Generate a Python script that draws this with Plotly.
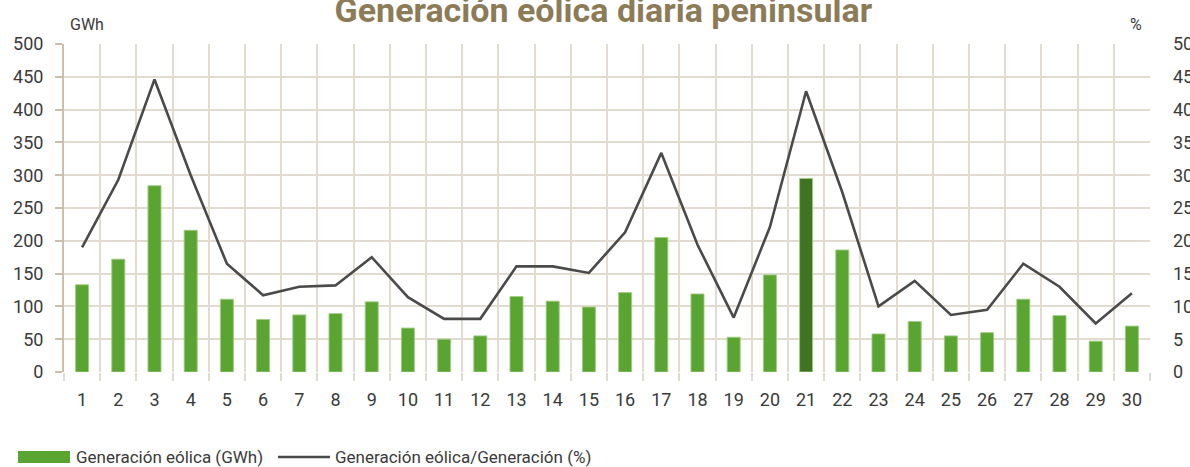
import plotly.graph_objects as go

days = [str(d) for d in range(1, 31)]
wind_gwh = [133, 172, 284, 216, 111, 80, 87, 89, 107, 67, 50, 55, 115, 108, 99,
            121, 205, 119, 53, 148, 295, 186, 58, 77, 55, 60, 111, 86, 47, 70]
wind_pct = [19.0, 29.3, 44.6, 30.0, 16.5, 11.7, 13.0, 13.2, 17.5, 11.4, 8.1, 8.1, 16.1, 16.1, 15.1,
            21.3, 33.4, 19.4, 8.3, 22.1, 42.8, 27.4, 10.0, 13.9, 8.7, 9.5, 16.5, 13.0, 7.4, 12.0]
highlight_day = "21"
left_ticks = [0, 50, 100, 150, 200, 250, 300, 350, 400, 450, 500]
right_ticks = [0, 5, 10, 15, 20, 25, 30, 35, 40, 45, 50]

FONT = "Roboto, sans-serif"
GREEN = "#5aa532"
DARK_GREEN = "#3e7422"
GRID = "#e2dbcf"
AXIS = "#cbbfac"
TXT = "#3a3a3a"

colors = [DARK_GREEN if d == highlight_day else GREEN for d in days]

fig = go.Figure()
fig.add_trace(go.Bar(
    x=days, y=wind_gwh, name="Generación eólica (GWh)",
    marker=dict(color=colors, line=dict(color="rgba(160,205,130,0.9)", width=1)),
    width=0.36, yaxis="y", showlegend=False,
))
fig.add_trace(go.Scatter(
    x=days, y=wind_pct, name="Generación eólica/Generación (%)",
    mode="lines", line=dict(color="#4a4a4a", width=2.6),
    yaxis="y2", showlegend=False,
))

fig.update_layout(
    width=1190, height=467,
    margin=dict(l=64, r=40, t=44, b=95, autoexpand=False),
    paper_bgcolor="white", plot_bgcolor="white",
    font=dict(family=FONT, color=TXT, size=18),
    title=dict(text="<b>Generación eólica diaria peninsular</b>",
               x=0.507, xanchor="center", y=0.979, yanchor="middle",
               font=dict(family=FONT, size=34, color="#8c7b57")),
    xaxis=dict(type="category", tickson="boundaries", showgrid=True, gridcolor=GRID,
               gridwidth=1.5, ticks="outside", ticklen=8, tickcolor=GRID, tickwidth=1.5,
               ticklabelstandoff=15,
               showline=False, zeroline=False, tickfont=dict(size=18, color=TXT),
               range=[-0.5, 29.5], automargin=False),
    yaxis=dict(range=[0, 500], tickvals=left_ticks, showgrid=True, gridcolor=GRID,
               gridwidth=1.5, showline=True, linecolor=AXIS, linewidth=2,
               ticks="outside", ticklen=7, tickcolor=AXIS, tickwidth=2,
               ticklabelstandoff=8, zeroline=False, tickfont=dict(size=18, color=TXT),
               automargin=False),
    yaxis2=dict(range=[0, 50], tickvals=right_ticks, overlaying="y", side="right",
                showgrid=False, showline=False, zeroline=False, ticks="",
                ticklabelstandoff=22, tickfont=dict(size=18, color=TXT),
                automargin=False),
    showlegend=False,
)

# unit labels
fig.add_annotation(text="GWh", xref="paper", yref="paper", x=0, xshift=4, y=1, yshift=8,
                   xanchor="left", yanchor="bottom", showarrow=False,
                   font=dict(size=16, color=TXT))
fig.add_annotation(text="%", xref="paper", yref="paper", x=1, xshift=-6, y=1, yshift=8,
                   xanchor="right", yanchor="bottom", showarrow=False,
                   font=dict(size=16, color=TXT))

# manual legend (bottom)
fig.add_shape(type="rect", xref="paper", yref="paper",
              x0=(18 - 64) / 1086, x1=(70 - 64) / 1086,
              y0=-(463 - 372) / 328, y1=-(451 - 372) / 328,
              fillcolor=GREEN, line=dict(width=0))
fig.add_annotation(text="Generación eólica (GWh)", xref="paper", yref="paper",
                   x=(74 - 64) / 1086, y=-(457 - 372) / 328, xanchor="left", yanchor="middle",
                   showarrow=False, font=dict(size=17, color=TXT))
fig.add_shape(type="line", xref="paper", yref="paper",
              x0=(278 - 64) / 1086, x1=(330 - 64) / 1086,
              y0=-(457 - 372) / 328, y1=-(457 - 372) / 328,
              line=dict(color="#4a4a4a", width=2.6))
fig.add_annotation(text="Generación eólica/Generación (%)", xref="paper", yref="paper",
                   x=(333 - 64) / 1086, y=-(457 - 372) / 328, xanchor="left", yanchor="middle",
                   showarrow=False, font=dict(size=17, color=TXT))

fig.write_html("out.html", config={"displayModeBar": False},
               post_script="document.body.style.margin='0';document.body.style.overflow='hidden';")
